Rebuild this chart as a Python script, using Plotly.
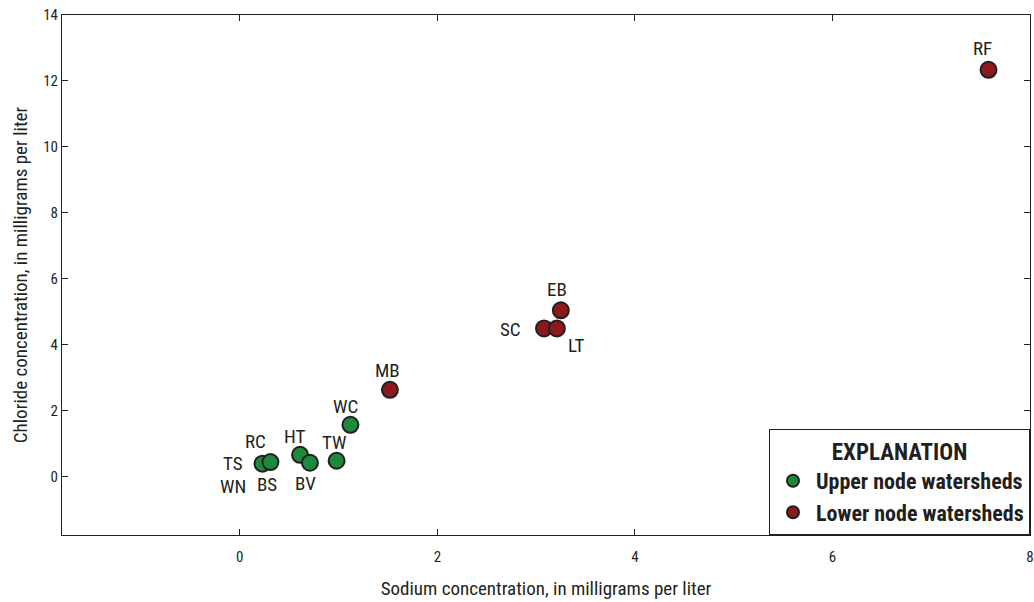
import plotly.graph_objects as go

# Sodium vs chloride concentrations (mg/L) by watershed
upper_sites = ["TS", "RC", "HT", "BV", "TW", "WC"]
upper_na = [0.23, 0.31, 0.61, 0.71, 0.98, 1.12]
upper_cl = [0.40, 0.45, 0.67, 0.43, 0.49, 1.58]

lower_sites = ["MB", "SC", "LT", "EB", "RF"]
lower_na = [1.52, 3.08, 3.21, 3.25, 7.58]
lower_cl = [2.64, 4.50, 4.50, 5.05, 12.34]

x_ticks = [0, 2, 4, 6, 8]
y_ticks = [0, 2, 4, 6, 8, 10, 12, 14]

# Labels: (text, x, y, xshift, yshift)
labels = [
    ("TS", 0.23, 0.40, -30, 0),
    ("WN", 0.23, 0.40, -30, -23),
    ("RC", 0.31, 0.45, -15, 21),
    ("BS", 0.31, 0.45, -3, -22),
    ("HT", 0.61, 0.67, -5, 18),
    ("BV", 0.71, 0.43, -4, -21),
    ("TW", 0.98, 0.49, -2, 18),
    ("WC", 1.12, 1.58, -5, 18),
    ("MB", 1.52, 2.64, -2, 19),
    ("SC", 3.08, 4.50, -34, -1),
    ("EB", 3.25, 5.05, -4, 21),
    ("LT", 3.21, 4.50, 19, -17),
    ("RF", 7.58, 12.34, -6, 21),
]

FONT = "Liberation Sans Narrow, Arial Narrow, Roboto Condensed, Liberation Sans, sans-serif"
INK = "#231f20"
GREEN = "#1b8a3c"
RED = "#8c1a1d"

fig = go.Figure()
fig.add_trace(go.Scatter(
    x=upper_na, y=upper_cl, mode="markers", name="<b>Upper node watersheds</b>",
    marker=dict(size=16, color=GREEN, line=dict(color=INK, width=2)),
))
fig.add_trace(go.Scatter(
    x=lower_na, y=lower_cl, mode="markers", name="<b>Lower node watersheds</b>",
    marker=dict(size=16, color=RED, line=dict(color=INK, width=2)),
))

for text, x, y, dx, dy in labels:
    fig.add_annotation(x=x, y=y, text=text, showarrow=False, xshift=dx, yshift=dy,
                       font=dict(family=FONT, size=19, color=INK))

axis_common = dict(
    showline=True, mirror="ticks", linecolor=INK, linewidth=1,
    ticks="inside", ticklen=6, tickcolor=INK, tickwidth=1,
    showgrid=False, zeroline=False, automargin=False,
    tickfont=dict(family=FONT, size=15, color=INK),
)

fig.update_layout(
    width=1034, height=602,
    margin=dict(l=62, r=4, t=15, b=67),
    plot_bgcolor="white", paper_bgcolor="white",
    font=dict(family=FONT, color=INK),
    xaxis=dict(range=[-1.8, 8], tickvals=x_ticks, ticklabelstandoff=8,
               title=dict(text="Sodium concentration, in milligrams per liter",
                          font=dict(family=FONT, size=19), standoff=16),
               **axis_common),
    yaxis=dict(range=[-1.76, 14], tickvals=y_ticks,
               title=dict(text="Chloride concentration, in milligrams per liter",
                          font=dict(family=FONT, size=19), standoff=10),
               **axis_common),
    legend=dict(
        x=1, y=0, xanchor="right", yanchor="bottom",
        bgcolor="white", bordercolor=INK, borderwidth=1,
        title=dict(text="<b>EXPLANATION</b>", side="top center",
                   font=dict(family=FONT, size=23)),
        font=dict(family=FONT, size=22),
        itemsizing="constant", itemwidth=36,
        tracegroupgap=0,
    ),
)

fig.write_html("out.html")
